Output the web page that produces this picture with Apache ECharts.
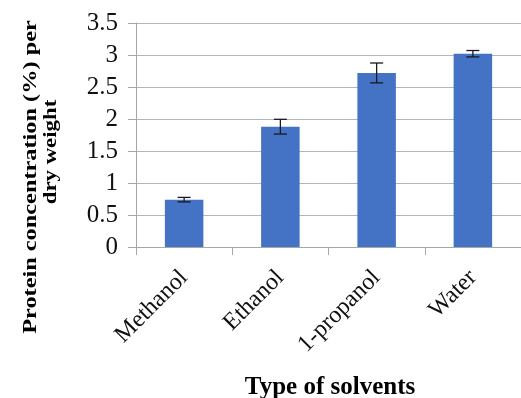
<!DOCTYPE html>
<html><head><meta charset="utf-8">
<script src="https://cdn.jsdelivr.net/npm/echarts@6/dist/echarts.min.js"></script>
<style>html,body{margin:0;padding:0;background:#fff}#c{width:521px;height:398px}</style>
</head><body><div id="c"></div>
<script>
const categories = ['Methanol', 'Ethanol', '1-propanol', 'Water'];
const values = [0.74, 1.88, 2.72, 3.02];
const errors = [0.035, 0.115, 0.155, 0.05];
const yTicks = [0, 0.5, 1, 1.5, 2, 2.5, 3, 3.5];
const yTitle1 = 'Protein concentration (%) per';
const yTitle2 = 'dry weight';
const xTitle = 'Type of solvents';

const FONT = '"Liberation Serif", "Times New Roman", serif';
const chart = echarts.init(document.getElementById('c'), null, {renderer: 'canvas'});
const errData = values.map((v, i) => [i, v - errors[i], v + errors[i]]);
chart.setOption({
  animation: false,
  grid: {left: 136, top: 23, width: 389, height: 224, containLabel: false},
  xAxis: {
    type: 'category', data: categories, boundaryGap: true,
    axisLine: {lineStyle: {color: '#a6a6a6', width: 1}},
    axisTick: {show: true, length: 8, lineStyle: {color: '#a6a6a6'}},
    axisLabel: {rotate: 45, margin: 27, fontFamily: FONT, fontSize: 24, color: '#111'}
  },
  yAxis: {
    type: 'value', min: yTicks[0], max: yTicks[yTicks.length - 1], interval: 0.5,
    axisLine: {show: true, lineStyle: {color: '#a6a6a6', width: 1}},
    axisTick: {show: true, length: 8, lineStyle: {color: '#a6a6a6'}},
    splitLine: {lineStyle: {color: '#b5b5b5', width: 1}},
    axisLabel: {margin: 18, fontFamily: FONT, fontSize: 25, color: '#111'}
  },
  graphic: [
    {type: 'text', x: 31, y: 177, rotation: Math.PI / 2, scaleX: 1.28, scaleY: 1,
     style: {text: yTitle1, font: 'bold 19px ' + FONT, fill: '#000', align: 'center', verticalAlign: 'middle'}},
    {type: 'text', x: 51, y: 152, rotation: Math.PI / 2, scaleX: 1.2, scaleY: 1,
     style: {text: yTitle2, font: 'bold 19px ' + FONT, fill: '#000', align: 'center', verticalAlign: 'middle'}},
    {type: 'text', x: 330, y: 388,
     style: {text: xTitle, font: 'bold 25px ' + FONT, fill: '#000', align: 'center', verticalAlign: 'middle'}}
  ],
  series: [
    {type: 'bar', data: values, barWidth: '40%', itemStyle: {color: '#4472C4'}},
    {type: 'custom', data: errData, z: 10,
     renderItem: function (params, api) {
       const x = api.value(0);
       const lo = api.coord([x, api.value(1)]);
       const hi = api.coord([x, api.value(2)]);
       const w = 6.5;
       const st = {stroke: '#1a1a1a', lineWidth: 1.3};
       return {type: 'group', children: [
         {type: 'line', shape: {x1: hi[0], y1: hi[1], x2: lo[0], y2: lo[1]}, style: st},
         {type: 'line', shape: {x1: hi[0] - w, y1: hi[1], x2: hi[0] + w, y2: hi[1]}, style: st},
         {type: 'line', shape: {x1: lo[0] - w, y1: lo[1], x2: lo[0] + w, y2: lo[1]}, style: st}
       ]};
     }}
  ]
});
</script></body></html>
